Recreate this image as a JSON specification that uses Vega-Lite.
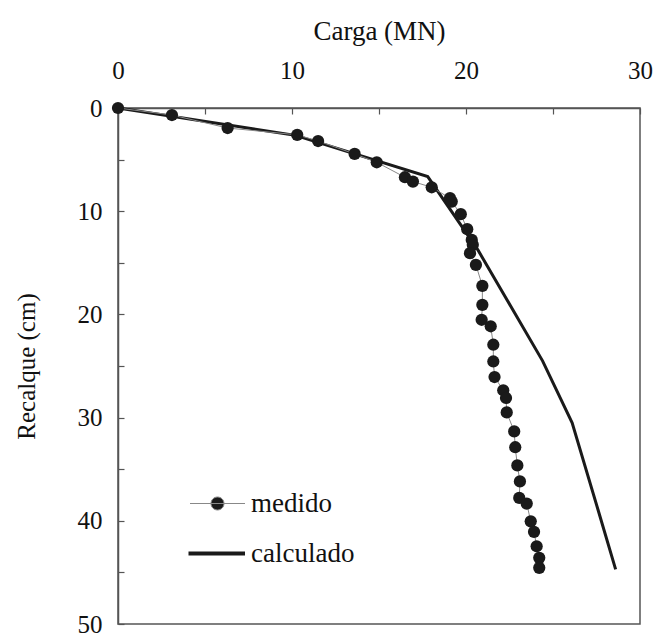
{
  "$schema": "https://vega.github.io/schema/vega-lite/v6.json",
  "width": 522,
  "height": 516,
  "autosize": {"type": "none"},
  "padding": {"left": 118, "top": 108, "right": 14, "bottom": 9},
  "background": "white",
  "config": {
    "view": {"stroke": "#555", "strokeWidth": 1.5},
    "font": "Liberation Serif, Times New Roman, serif",
    "axis": {
      "labelFont": "Liberation Serif, Times New Roman, serif",
      "titleFont": "Liberation Serif, Times New Roman, serif",
      "labelFontSize": 25,
      "titleFontSize": 25,
      "titleFontWeight": "normal",
      "labelColor": "#111",
      "titleColor": "#111",
      "domainColor": "#555",
      "domainWidth": 1.5,
      "tickColor": "#555",
      "tickWidth": 1.2,
      "grid": false
    }
  },
  "datasets": {
    "curvas": [
      {"serie": "medido", "carga": 0, "recalque": 0},
      {"serie": "medido", "carga": 3.1, "recalque": 0.68},
      {"serie": "medido", "carga": 6.3, "recalque": 1.94},
      {"serie": "medido", "carga": 10.3, "recalque": 2.6},
      {"serie": "medido", "carga": 11.5, "recalque": 3.2},
      {"serie": "medido", "carga": 13.6, "recalque": 4.45},
      {"serie": "medido", "carga": 14.87, "recalque": 5.26},
      {"serie": "medido", "carga": 16.49, "recalque": 6.71},
      {"serie": "medido", "carga": 16.95, "recalque": 7.13},
      {"serie": "medido", "carga": 18.03, "recalque": 7.68},
      {"serie": "medido", "carga": 19.08, "recalque": 8.74},
      {"serie": "medido", "carga": 19.18, "recalque": 9.07},
      {"serie": "medido", "carga": 19.7, "recalque": 10.29},
      {"serie": "medido", "carga": 20.07, "recalque": 11.74},
      {"serie": "medido", "carga": 20.33, "recalque": 12.78},
      {"serie": "medido", "carga": 20.39, "recalque": 13.26},
      {"serie": "medido", "carga": 20.23, "recalque": 14.07},
      {"serie": "medido", "carga": 20.57, "recalque": 15.2},
      {"serie": "medido", "carga": 20.94, "recalque": 17.23},
      {"serie": "medido", "carga": 20.94, "recalque": 19.07},
      {"serie": "medido", "carga": 20.9, "recalque": 20.52},
      {"serie": "medido", "carga": 21.42, "recalque": 21.15},
      {"serie": "medido", "carga": 21.57, "recalque": 22.94},
      {"serie": "medido", "carga": 21.57, "recalque": 24.56},
      {"serie": "medido", "carga": 21.64, "recalque": 26.07},
      {"serie": "medido", "carga": 22.14, "recalque": 27.35},
      {"serie": "medido", "carga": 22.3, "recalque": 28.1},
      {"serie": "medido", "carga": 22.34, "recalque": 29.5},
      {"serie": "medido", "carga": 22.77, "recalque": 31.34},
      {"serie": "medido", "carga": 22.83, "recalque": 32.87},
      {"serie": "medido", "carga": 22.95, "recalque": 34.63},
      {"serie": "medido", "carga": 23.1, "recalque": 36.18},
      {"serie": "medido", "carga": 23.06, "recalque": 37.78},
      {"serie": "medido", "carga": 23.49, "recalque": 38.33},
      {"serie": "medido", "carga": 23.72, "recalque": 40.05},
      {"serie": "medido", "carga": 23.91, "recalque": 41.07},
      {"serie": "medido", "carga": 24.06, "recalque": 42.47},
      {"serie": "medido", "carga": 24.21, "recalque": 43.59},
      {"serie": "medido", "carga": 24.21, "recalque": 44.56},
      {"serie": "calculado", "carga": 0, "recalque": 0},
      {"serie": "calculado", "carga": 10.2, "recalque": 2.65},
      {"serie": "calculado", "carga": 17.8, "recalque": 6.65},
      {"serie": "calculado", "carga": 20.7, "recalque": 13.8},
      {"serie": "calculado", "carga": 24.4, "recalque": 24.5},
      {"serie": "calculado", "carga": 26.1, "recalque": 30.5},
      {"serie": "calculado", "carga": 27.6, "recalque": 39.0},
      {"serie": "calculado", "carga": 28.6, "recalque": 44.7}
    ]
  },
  "data": {"name": "curvas"},
  "encoding": {
    "x": {
      "field": "carga",
      "type": "quantitative",
      "scale": {"domain": [0, 30], "nice": false, "zero": false},
      "axis": {
        "orient": "top",
        "title": "Carga (MN)",
        "titleFontSize": 27,
        "values": [0, 5, 10, 15, 20, 25, 30],
        "labelExpr": "datum.value % 10 === 0 ? datum.label : ''",
        "tickSize": -6,
        "labelPadding": 31,
        "titlePadding": 13,
        "labelFlush": false,
        "labelOverlap": false
      }
    },
    "y": {
      "field": "recalque",
      "type": "quantitative",
      "scale": {"domain": [0, 50], "reverse": true, "nice": false, "zero": false},
      "axis": {
        "orient": "left",
        "title": "Recalque (cm)",
        "values": [0, 5, 10, 15, 20, 25, 30, 35, 40, 45, 50],
        "labelExpr": "datum.value % 10 === 0 ? datum.label : ''",
        "tickSize": -6,
        "labelPadding": 22,
        "titlePadding": 38,
        "labelFlush": false,
        "labelOverlap": false
      }
    }
  },
  "layer": [
    {
      "transform": [{"filter": "datum.serie === 'calculado'"}],
      "mark": {"type": "line", "strokeWidth": 3, "clip": false},
      "encoding": {
        "order": {"field": "recalque", "type": "quantitative"},
        "color": {
          "field": "serie",
          "type": "nominal",
          "scale": {"domain": ["medido", "calculado"], "range": ["#888888", "#1a1a1a"]},
          "legend": {
            "title": null,
            "orient": "none",
            "legendX": 86,
            "legendY": 382,
            "symbolSize": 400,
            "labelFont": "Liberation Serif, Times New Roman, serif",
            "labelFontSize": 27,
            "labelColor": "#111",
            "labelOffset": 20,
            "rowPadding": 22,
            "encode": {
              "symbols": {
                "update": {
                  "shape": {"signal": "datum.value === 'medido' ? 'M-2.75,0L2.75,0M-0.65,0A0.65,0.65 0 1,0 0.65,0A0.65,0.65 0 1,0 -0.65,0Z' : 'M-2.9,0L2.75,0'"},
                  "fill": {"signal": "datum.value === 'medido' ? '#1a1a1a' : 'transparent'"},
                  "stroke": {"signal": "datum.value === 'medido' ? '#888888' : '#1a1a1a'"},
                  "strokeWidth": {"signal": "datum.value === 'medido' ? 1 : 4"}
                }
              }
            }
          }
        }
      }
    },
    {
      "transform": [{"filter": "datum.serie === 'medido'"}],
      "mark": {"type": "line", "strokeWidth": 1, "clip": false},
      "encoding": {
        "order": {"field": "recalque", "type": "quantitative"},
        "color": {"field": "serie", "type": "nominal"}
      }
    },
    {
      "transform": [{"filter": "datum.serie === 'medido'"}],
      "mark": {"type": "point", "filled": true, "size": 150, "opacity": 1, "color": "#1a1a1a", "clip": false},
      "encoding": {}
    }
  ]
}
